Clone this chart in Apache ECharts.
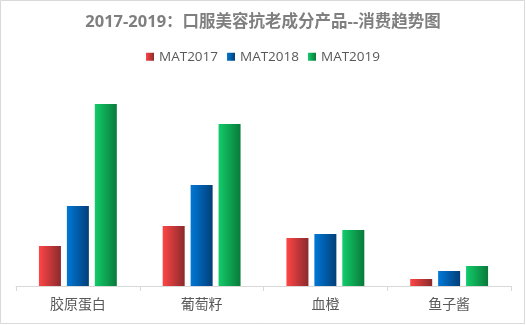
<!DOCTYPE html>
<html>
<head>
<meta charset="utf-8">
<script src="https://cdn.jsdelivr.net/npm/echarts@6/dist/echarts.min.js"></script>
<style>
  html, body { margin: 0; padding: 0; background: #fff; }
  #chart { width: 526px; height: 325px; }
</style>
</head>
<body>
<div id="chart"></div>
<script>
// Ingredient categories and yearly consumption index values
var categories = ['胶原蛋白', '葡萄籽', '血橙', '鱼子酱'];
var seriesNames = ['MAT2017', 'MAT2018', 'MAT2019'];
var mat2017 = [40, 60, 48, 7];
var mat2018 = [80, 101, 52, 15];
var mat2019 = [182, 162, 56, 20];

var fontCJK = '"Noto Sans CJK SC", "Noto Sans", sans-serif';
var fontMixed = '"Open Sans", "Noto Sans CJK SC", sans-serif';

function grad(from, to) {
  return new echarts.graphic.LinearGradient(0, 0, 1, 0, [
    { offset: 0, color: from },
    { offset: 1, color: to }
  ]);
}

var colors = [
  grad('#ff4545', '#8a2a2c'),
  grad('#0078d7', '#023f78'),
  grad('#12cc69', '#097a3b')
];

var values = [mat2017, mat2018, mat2019];

var chart = echarts.init(document.getElementById('chart'), null, { renderer: 'canvas' });
chart.setOption({
  animation: false,
  backgroundColor: '#fff',
  title: {
    text: '2017-2019：口服美容抗老成分产品--消费趋势图',
    left: 'center',
    top: 9,
    textStyle: { fontFamily: fontMixed, fontSize: 16.5, fontWeight: 'bold', color: '#7f7f7f' }
  },
  legend: {
    top: 45,
    left: 'center',
    itemWidth: 8,
    itemHeight: 8,
    itemGap: 9,
    icon: 'rect',
    data: seriesNames,
    textStyle: { fontFamily: fontMixed, fontSize: 13.5, color: '#595959', padding: [0, 0, 0, 0] }
  },
  grid: { left: 16, right: 15, top: 86, bottom: 39, containLabel: false },
  xAxis: {
    type: 'category',
    data: categories,
    axisLine: { lineStyle: { color: '#d9d9d9', width: 1 } },
    axisTick: { show: true, length: 5, lineStyle: { color: '#d9d9d9' } },
    axisLabel: { fontFamily: fontCJK, fontSize: 14, color: '#595959', margin: 11 }
  },
  yAxis: {
    type: 'value',
    min: 0,
    max: 200,
    show: false,
    splitLine: { show: false }
  },
  graphic: [{
    type: 'rect',
    shape: { x: 0.5, y: 0.5, width: 524, height: 323 },
    style: { fill: 'none', stroke: '#d9d9d9', lineWidth: 1 },
    silent: true
  }],
  series: seriesNames.map(function (name, i) {
    return {
      name: name,
      type: 'bar',
      data: values[i],
      barWidth: 22,
      barGap: '27%',
      itemStyle: { color: colors[i] }
    };
  })
});
</script>
</body>
</html>
